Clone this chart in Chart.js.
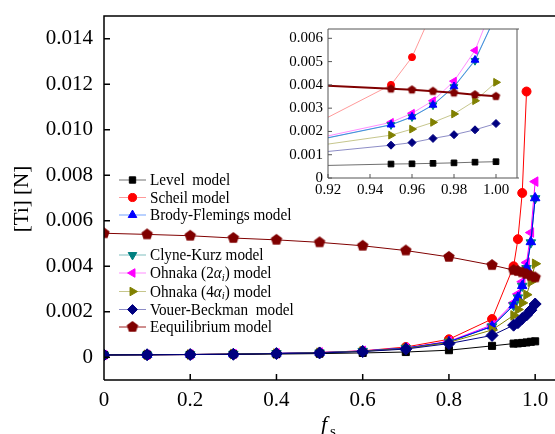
<!DOCTYPE html>
<html>
<head>
<meta charset="utf-8">
<script src="https://cdn.jsdelivr.net/npm/chart.js@4.4.1/dist/chart.umd.min.js"></script>
<style>
  html, body { margin: 0; padding: 0; background: #fff; }
  #wrap { position: relative; width: 555px; height: 434px; overflow: hidden; }
  #mainChart { position: absolute; left: 0; top: 0; }
  #insetChart { position: absolute; left: 284px; top: 22px; }
</style>
</head>
<body>
<div id="wrap">
  <canvas id="mainChart" width="555" height="434"></canvas>
  <canvas id="insetChart" width="236" height="182"></canvas>
</div>
<script>
// solid fraction
const fs = [0, 0.1, 0.2, 0.3, 0.4, 0.5, 0.6, 0.7, 0.8, 0.9, 0.95, 0.96, 0.97, 0.98, 0.99, 1.0];

// [Ti] in mass fraction for each model
const level   = [0.00010, 0.00011, 0.00012, 0.00013, 0.00014, 0.00016, 0.00019, 0.00023, 0.00031, 0.00050, 0.00060, 0.00061, 0.00063, 0.00065, 0.00068, 0.00070];
const scheil  = [0.00010, 0.00011, 0.00012, 0.00014, 0.00017, 0.00021, 0.00028, 0.00045, 0.00079, 0.00168, 0.00400, 0.00519, 0.00722, 0.01168, null, null];
const brody   = [0.00010, 0.00011, 0.00012, 0.00014, 0.00017, 0.00020, 0.00027, 0.00040, 0.00068, 0.00136, 0.00229, 0.00263, 0.00314, 0.00393, 0.00507, 0.00700];
const clyne   = [0.00010, 0.00011, 0.00012, 0.00014, 0.00017, 0.00020, 0.00027, 0.00040, 0.00067, 0.00135, 0.00228, 0.00262, 0.00313, 0.00391, 0.00504, 0.00698];
const ohnaka2 = [0.00010, 0.00011, 0.00012, 0.00014, 0.00017, 0.00021, 0.00028, 0.00041, 0.00070, 0.00142, 0.00239, 0.00278, 0.00332, 0.00416, 0.00548, 0.00772];
const ohnaka4 = [0.00010, 0.00011, 0.00012, 0.00014, 0.00016, 0.00020, 0.00026, 0.00038, 0.00065, 0.00120, 0.00184, 0.00210, 0.00239, 0.00275, 0.00332, 0.00411];
const vouer   = [0.00010, 0.00011, 0.00012, 0.00013, 0.00016, 0.00019, 0.00025, 0.00036, 0.00060, 0.00096, 0.00141, 0.00152, 0.00170, 0.00186, 0.00207, 0.00234];
const equil   = [0.00545, 0.00540, 0.00534, 0.00524, 0.00516, 0.00505, 0.00490, 0.00469, 0.00441, 0.00405, 0.00383, 0.00379, 0.00373, 0.00366, 0.00358, 0.00351];

// tick labels
const mainXTicks  = [0, 0.2, 0.4, 0.6, 0.8, 1.0];
const mainYTicks  = [0, 0.002, 0.004, 0.006, 0.008, 0.010, 0.012, 0.014];
const insetXTicks = [0.92, 0.94, 0.96, 0.98, 1.00];
const insetYTicks = [0, 0.001, 0.002, 0.003, 0.004, 0.005, 0.006];

const SERIF = '"Liberation Serif", "Times New Roman", serif';

function makePentagon(r, color) {
  const c = document.createElement("canvas");
  const s = Math.ceil(r * 2 + 2);
  c.width = s; c.height = s;
  const g = c.getContext("2d");
  g.fillStyle = color;
  g.beginPath();
  for (let i = 0; i < 5; i++) {
    const a = -Math.PI / 2 + i * 2 * Math.PI / 5;
    const px = s / 2 + r * Math.cos(a), py = s / 2 + r * Math.sin(a);
    if (i) g.lineTo(px, py); else g.moveTo(px, py);
  }
  g.closePath();
  g.fill();
  return c;
}
const pentaMain = makePentagon(6, "#800000");
const pentaInset = makePentagon(4.5, "#800000");

// style of each series: main colour, faded line colour for the inset and legend
const models = [
  { data: level,   color: "#000000", fade: "#707070", style: "rect",     rot: 0,   r: 5,   ri: 4,   order: 2,
    text: [{ t: "Level  model" }] },
  { data: scheil,  color: "#ff0000", fade: "rgba(255,0,0,0.4)", style: "circle", rot: 0, r: 4.5, ri: 3.5, order: 7,
    text: [{ t: "Scheil model" }] },
  { data: brody,   color: "#0000ff", fade: "rgba(0,90,255,0.55)", style: "triangle", rot: 0, r: 5.5, ri: 4.5, order: 4,
    text: [{ t: "Brody-Flemings model" }] },
  { data: clyne,   color: "#008080", fade: "rgba(0,128,128,0.5)", style: "triangle", rot: 180, r: 5.5, ri: 4.5, order: 5,
    text: [{ t: "Clyne-Kurz model" }] },
  { data: ohnaka2, color: "#ff00ff", fade: "rgba(255,0,255,0.45)", style: "triangle", rot: -90, r: 5.5, ri: 4.5, order: 6,
    text: [{ t: "Ohnaka (2" }, { t: "α", it: true }, { t: "i", it: true, sub: true }, { t: ") model" }] },
  { data: ohnaka4, color: "#808000", fade: "rgba(128,128,0,0.45)", style: "triangle", rot: 90, r: 5.5, ri: 4.5, order: 3,
    text: [{ t: "Ohnaka (4" }, { t: "α", it: true }, { t: "i", it: true, sub: true }, { t: ") model" }] },
  { data: vouer,   color: "#000080", fade: "rgba(0,0,128,0.45)", style: "rectRot", rot: 0, r: 6, ri: 4, order: 0,
    text: [{ t: "Vouer-Beckman  model" }] },
  { data: equil,   color: "#800000", fade: "#800000", style: "pentagon", rot: 0, r: 6, ri: 4.5, order: 1,
    text: [{ t: "Eequilibrium model" }] }
];

function points(ys) {
  return fs.map((x, i) => ({ x: x, y: ys[i] }));
}

function drawMarker(ctx, m, x, y, r, penta) {
  ctx.save();
  ctx.fillStyle = m.color;
  ctx.strokeStyle = m.color;
  ctx.lineWidth = 1;
  const style = m.style === "pentagon" ? penta : m.style;
  if (Chart.helpers && Chart.helpers.drawPoint) {
    Chart.helpers.drawPoint(ctx, { pointStyle: style, rotation: m.rot, radius: r, borderWidth: 1 }, x, y);
  }
  ctx.restore();
}

// box + inward ticks
function frameTicks(opts) {
  return {
    id: "frameTicks",
    afterDraw(chart) {
      const ctx = chart.ctx, a = chart.chartArea;
      const xs = chart.scales.x, ys = chart.scales.y;
      ctx.save();
      ctx.strokeStyle = opts.color;
      ctx.lineWidth = opts.width;
      ctx.beginPath();
      ctx.moveTo(a.left, a.bottom); ctx.lineTo(a.left, a.top); ctx.lineTo(a.right + 2, a.top);
      ctx.moveTo(a.left, a.bottom); ctx.lineTo(a.right + 2, a.bottom);
      if (opts.right) { ctx.moveTo(a.right, a.top); ctx.lineTo(a.right, a.bottom); }
      opts.xTicks.forEach(v => {
        const px = xs.getPixelForValue(v);
        ctx.moveTo(px, a.bottom); ctx.lineTo(px, a.bottom - opts.len);
      });
      opts.yTicks.forEach(v => {
        const py = ys.getPixelForValue(v);
        ctx.moveTo(a.left, py); ctx.lineTo(a.left + opts.len, py);
      });
      ctx.stroke();
      ctx.restore();
    }
  };
}

function drawRich(ctx, parts, x, y, size) {
  let cx = x;
  parts.forEach(p => {
    const s = p.sub ? size * 0.7 : size;
    ctx.font = (p.it ? "italic " : "") + s + "px " + SERIF;
    ctx.fillText(p.t, cx, p.sub ? y + size * 0.25 : y);
    cx += ctx.measureText(p.t).width;
  });
}

const legendPlugin = {
  id: "sideLegend",
  afterDraw(chart) {
    const ctx = chart.ctx;
    const rowsY = [180, 197.5, 215, 255, 273, 291.5, 309.5, 327];
    ctx.save();
    models.forEach((m, i) => {
      const y = rowsY[i];
      ctx.strokeStyle = m.fade === "#800000" ? "#a02020" : m.fade;
      ctx.lineWidth = 1;
      ctx.beginPath(); ctx.moveTo(119, y); ctx.lineTo(146, y); ctx.stroke();
      drawMarker(ctx, m, 132.5, y, Math.min(m.r, 5.5) * 0.9, pentaMain);
      ctx.fillStyle = "#000";
      ctx.textBaseline = "middle";
      ctx.textAlign = "left";
      ctx.save();
      ctx.translate(150, y + 1);
      ctx.scale(0.95, 1);
      drawRich(ctx, m.text, 0, 0, 16);
      ctx.restore();
    });
    // axis titles
    ctx.fillStyle = "#000";
    ctx.textAlign = "center";
    ctx.textBaseline = "middle";
    ctx.save();
    ctx.translate(22, 199);
    ctx.rotate(-Math.PI / 2);
    ctx.font = "21px " + SERIF;
    ctx.fillText("[Ti] [N]", 0, 0);
    ctx.restore();
    ctx.textAlign = "left";
    ctx.textBaseline = "alphabetic";
    ctx.font = "italic 22px " + SERIF;
    ctx.fillText("f", 321, 431);
    ctx.font = "15px " + SERIF;
    ctx.fillText("s", 330, 436);
    ctx.restore();
  }
};

function axisTicks(list) {
  return s => { s.ticks = list.map(v => ({ value: v })); };
}

new Chart(document.getElementById("mainChart"), {
  type: "line",
  data: {
    datasets: models.map(m => ({
      data: points(m.data),
      borderColor: m.color,
      backgroundColor: m.color,
      borderWidth: 1,
      pointStyle: m.style === "pentagon" ? pentaMain : m.style,
      pointRotation: m.rot,
      pointRadius: m.r,
      pointBorderWidth: 1,
      tension: 0,
      order: m.order
    }))
  },
  options: {
    responsive: false,
    animation: false,
    events: [],
    layout: { autoPadding: false, padding: { top: 16, right: 0, bottom: 0, left: 0 } },
    plugins: { legend: { display: false }, tooltip: { enabled: false } },
    scales: {
      x: {
        type: "linear", min: 0, max: 1.046,
        afterBuildTicks: axisTicks(mainXTicks),
        afterFit: s => { s.height = 54; s.paddingLeft = 0; s.paddingRight = 0; },
        grid: { display: false, drawTicks: false },
        border: { display: false },
        ticks: {
          color: "#000", padding: 8, maxRotation: 0, autoSkip: false,
          font: { family: SERIF, size: 21 },
          callback: v => v === 0 ? "0" : v.toFixed(1)
        }
      },
      y: {
        type: "linear", min: -0.001, max: 0.015,
        afterBuildTicks: axisTicks(mainYTicks),
        afterFit: s => { s.width = 104; s.paddingTop = 0; s.paddingBottom = 0; },
        grid: { display: false, drawTicks: false },
        border: { display: false },
        ticks: {
          color: "#000", padding: 11, autoSkip: false,
          font: { family: SERIF, size: 21 },
          callback: v => v === 0 ? "0" : v.toFixed(3)
        }
      }
    }
  },
  plugins: [frameTicks({ color: "#000", width: 1.5, len: 6, right: false, xTicks: mainXTicks, yTicks: mainYTicks }), legendPlugin]
});

new Chart(document.getElementById("insetChart"), {
  type: "line",
  data: {
    datasets: models.map(m => ({
      data: points(m.data),
      borderColor: m.fade,
      backgroundColor: m.color,
      pointBorderColor: m.color,
      borderWidth: m.style === "pentagon" ? 2 : 1,
      pointStyle: m.style === "pentagon" ? pentaInset : m.style,
      pointRotation: m.rot,
      pointRadius: m.ri,
      pointBorderWidth: 1,
      tension: 0,
      order: m.style === "pentagon" ? 0 : m.order + 1
    }))
  },
  options: {
    responsive: false,
    animation: false,
    events: [],
    layout: { autoPadding: false, padding: { top: 7, right: 3, bottom: 0, left: 0 } },
    plugins: { legend: { display: false }, tooltip: { enabled: false } },
    scales: {
      x: {
        type: "linear", min: 0.92, max: 1.01,
        afterBuildTicks: axisTicks(insetXTicks),
        afterFit: s => { s.height = 26; s.paddingLeft = 0; s.paddingRight = 0; },
        grid: { display: false, drawTicks: false },
        border: { display: false },
        ticks: {
          color: "#000", padding: 3, maxRotation: 0, autoSkip: false,
          font: { family: SERIF, size: 15 },
          callback: v => v.toFixed(2)
        }
      },
      y: {
        type: "linear", min: 0, max: 0.0064,
        afterBuildTicks: axisTicks(insetYTicks),
        afterFit: s => { s.width = 44; s.paddingTop = 0; s.paddingBottom = 0; },
        grid: { display: false, drawTicks: false },
        border: { display: false },
        ticks: {
          color: "#000", padding: 5, autoSkip: false,
          font: { family: SERIF, size: 15 },
          callback: v => v === 0 ? "0" : v.toFixed(3)
        }
      }
    }
  },
  plugins: [frameTicks({ color: "#555", width: 1, len: 4, right: true, xTicks: insetXTicks, yTicks: insetYTicks })]
});
</script>
</body>
</html>
